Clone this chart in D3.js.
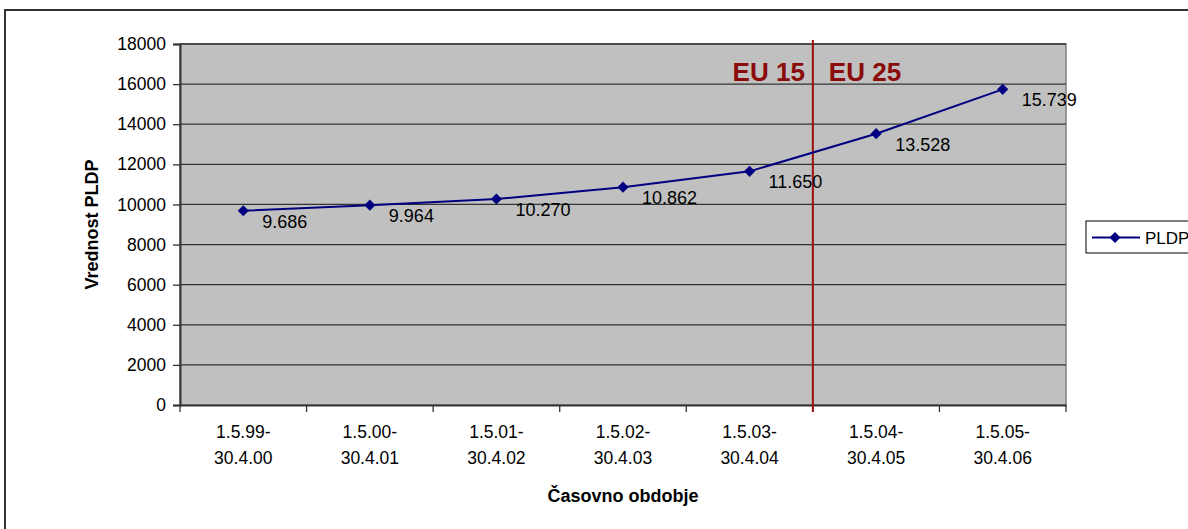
<!DOCTYPE html>
<html>
<head>
<meta charset="utf-8">
<script src="https://cdn.jsdelivr.net/npm/d3@7"></script>
<style>
  html, body { margin: 0; padding: 0; background: #fff; }
  svg { display: block; font-family: "Liberation Sans", Arial, sans-serif; }
</style>
</head>
<body>
<svg id="chart" width="1188" height="529"></svg>
<script>
// ---- data ----
const categories = ["1.5.99-|30.4.00", "1.5.00-|30.4.01", "1.5.01-|30.4.02", "1.5.02-|30.4.03",
                    "1.5.03-|30.4.04", "1.5.04-|30.4.05", "1.5.05-|30.4.06"];
const pldpValues = [9686, 9964, 10270, 10862, 11650, 13528, 15739];
const yTicks = [0, 2000, 4000, 6000, 8000, 10000, 12000, 14000, 16000, 18000];
const seriesName = "PLDP";
const eraLabels = ["EU 15", "EU 25"];
const eraBoundaryAfter = "1.5.03-|30.4.04";
const yTitle = "Vrednost PLDP";
const xTitle = "Časovno obdobje";

// ---- layout ----
const svg = d3.select("#chart");
const plot = { left: 180, right: 1066, top: 44, bottom: 405 };

const x = d3.scaleBand().domain(categories).range([plot.left, plot.right]).padding(0);
const y = d3.scaleLinear().domain([0, 18000]).range([plot.bottom, plot.top]);

const locale = d3.formatLocale({ decimal: ",", thousands: ".", grouping: [3], currency: ["", "€"] });
const fmtLabel = locale.format(",.0f");

// outer chart border
svg.append("rect")
  .attr("x", 5).attr("y", 10).attr("width", 1200).attr("height", 540)
  .attr("fill", "#fff").attr("stroke", "#333").attr("stroke-width", 2);

// plot background
svg.append("rect")
  .attr("x", plot.left).attr("y", plot.top)
  .attr("width", plot.right - plot.left).attr("height", plot.bottom - plot.top)
  .attr("fill", "#c0c0c0").attr("stroke", "#808080").attr("stroke-width", 1.5);

// gridlines
svg.append("g").selectAll("line")
  .data(yTicks.filter(d => d > 0))
  .join("line")
  .attr("x1", plot.left).attr("x2", plot.right)
  .attr("y1", d => y(d)).attr("y2", d => y(d))
  .attr("stroke", "#333").attr("stroke-width", 1.3);

// y axis
const yAxis = svg.append("g")
  .attr("transform", `translate(${plot.left},0)`)
  .call(d3.axisLeft(y).tickValues(yTicks).tickSize(7).tickPadding(7).tickFormat(d3.format("d")));
yAxis.select(".domain").attr("stroke", "#333").attr("stroke-width", 2);
yAxis.selectAll(".tick line").attr("stroke", "#333").attr("stroke-width", 1.3);
yAxis.selectAll(".tick text").attr("font-size", 17.5).attr("fill", "#000")
  .attr("font-family", "Liberation Sans, Arial, sans-serif");

// x axis
const xAxis = svg.append("g")
  .attr("transform", `translate(0,${plot.bottom})`)
  .call(d3.axisBottom(x).tickSize(0).tickPadding(0).tickFormat(""));
xAxis.select(".domain").attr("stroke", "#333").attr("stroke-width", 2);
xAxis.selectAll(".tick text").remove();
const boundaries = categories.map(c => x(c)).concat([x.range()[1]]);
xAxis.selectAll("line.bound")
  .data(boundaries)
  .join("line").attr("class", "bound")
  .attr("x1", d => d).attr("x2", d => d)
  .attr("y1", 0).attr("y2", 7)
  .attr("stroke", "#333").attr("stroke-width", 1.3);
const xLab = xAxis.selectAll("text.cat")
  .data(categories)
  .join("text").attr("class", "cat")
  .attr("x", d => x(d) + x.bandwidth() / 2)
  .attr("text-anchor", "middle")
  .attr("font-size", 17.5).attr("fill", "#000");
xLab.selectAll("tspan")
  .data(d => d.split("|"))
  .join("tspan")
  .attr("x", function () { return d3.select(this.parentNode).attr("x"); })
  .attr("y", (d, i) => 33 + i * 26)
  .text(d => d);

// axis titles
svg.append("text")
  .attr("transform", `translate(98,${(plot.top + plot.bottom) / 2}) rotate(-90)`)
  .attr("text-anchor", "middle").attr("font-size", 18).attr("font-weight", "bold")
  .text(yTitle);
svg.append("text")
  .attr("x", (plot.left + plot.right) / 2).attr("y", 502)
  .attr("text-anchor", "middle").attr("font-size", 18).attr("font-weight", "bold")
  .text(xTitle);

// era divider
const iB = categories.indexOf(eraBoundaryAfter);
const divX = x(categories[iB]) + x.bandwidth();
svg.append("line")
  .attr("x1", divX).attr("x2", divX)
  .attr("y1", plot.top - 4).attr("y2", plot.bottom + 7)
  .attr("stroke", "#9b1010").attr("stroke-width", 2);
svg.append("text")
  .attr("x", divX - 8).attr("y", 81)
  .attr("text-anchor", "end").attr("font-size", 26).attr("font-weight", "bold")
  .attr("fill", "#8b0a0a").text(eraLabels[0]);
svg.append("text")
  .attr("x", divX + 16).attr("y", 81)
  .attr("text-anchor", "start").attr("font-size", 26).attr("font-weight", "bold")
  .attr("fill", "#8b0a0a").text(eraLabels[1]);

// series line
const pts = categories.map((c, i) => ({ c, v: pldpValues[i] }));
svg.append("path")
  .datum(pts)
  .attr("fill", "none").attr("stroke", "#000080").attr("stroke-width", 2)
  .attr("d", d3.line().x(d => x(d.c) + x.bandwidth() / 2).y(d => y(d.v)));

const diamond = d3.symbol().type(d3.symbolSquare).size(62);
svg.append("g").selectAll("path")
  .data(pts)
  .join("path")
  .attr("transform", d => `translate(${x(d.c) + x.bandwidth() / 2},${y(d.v)}) rotate(45)`)
  .attr("d", diamond)
  .attr("fill", "#000080");

// data labels
svg.append("g").selectAll("text")
  .data(pts)
  .join("text")
  .attr("x", d => x(d.c) + x.bandwidth() / 2 + 19)
  .attr("y", d => y(d.v) + 17)
  .attr("font-size", 18).attr("fill", "#000")
  .text(d => fmtLabel(d.v));

// legend
const lg = svg.append("g");
lg.append("rect")
  .attr("x", 1086).attr("y", 221).attr("width", 120).attr("height", 32)
  .attr("fill", "#fff").attr("stroke", "#000").attr("stroke-width", 1);
lg.append("line")
  .attr("x1", 1092).attr("x2", 1140).attr("y1", 237.5).attr("y2", 237.5)
  .attr("stroke", "#000080").attr("stroke-width", 2);
lg.append("path")
  .attr("transform", "translate(1115,237.5) rotate(45)")
  .attr("d", diamond).attr("fill", "#000080");
lg.append("text")
  .attr("x", 1145).attr("y", 244)
  .attr("font-size", 17).attr("fill", "#000").text(seriesName);
</script>
</body>
</html>
